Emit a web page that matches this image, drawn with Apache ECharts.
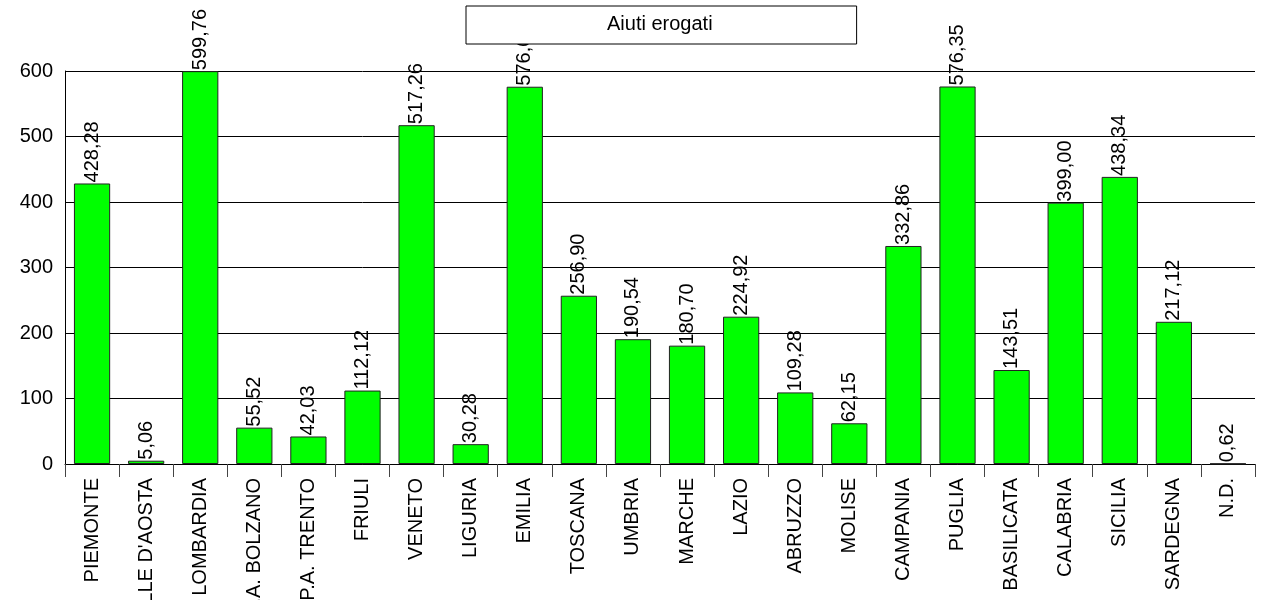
<!DOCTYPE html>
<html>
<head>
<meta charset="utf-8">
<script src="https://cdn.jsdelivr.net/npm/echarts@6/dist/echarts.min.js"></script>
<style>
  html, body { margin: 0; padding: 0; background: #fff; }
  #chart { width: 1271px; height: 600px; }
</style>
</head>
<body>
<div id="chart"></div>
<script>
// regioni
var categories = ['PIEMONTE', "VALLE D'AOSTA", 'LOMBARDIA', 'P.A. BOLZANO', 'P.A. TRENTO', 'FRIULI',
  'VENETO', 'LIGURIA', 'EMILIA', 'TOSCANA', 'UMBRIA', 'MARCHE', 'LAZIO', 'ABRUZZO', 'MOLISE',
  'CAMPANIA', 'PUGLIA', 'BASILICATA', 'CALABRIA', 'SICILIA', 'SARDEGNA', 'N.D.'];
var aiutiErogati = [428.28, 5.06, 599.76, 55.52, 42.03, 112.12, 517.26, 30.28, 576.00, 256.90,
  190.54, 180.70, 224.92, 109.28, 62.15, 332.86, 576.35, 143.51, 399.00, 438.34, 217.12, 0.62];
var yTicks = [0, 100, 200, 300, 400, 500, 600];

var font = 'Liberation Sans, Arial, sans-serif';
var myChart = echarts.init(document.getElementById('chart'));

var option = {
  animation: false,
  textStyle: { fontFamily: font },
  legend: {
    data: ['Aiuti erogati'],
    left: 466,
    top: 6,
    icon: 'rect',
    itemWidth: 0,
    itemHeight: 0,
    padding: [8, 144, 10, 135],
    backgroundColor: '#fff',
    borderColor: '#000',
    borderWidth: 1,
    borderRadius: 0,
    z: 10,
    textStyle: { fontSize: 20, color: '#000', fontFamily: font }
  },
  grid: { left: 65, right: 16, top: 71, bottom: 136, containLabel: false, outerBoundsMode: 'none' },
  xAxis: {
    type: 'category',
    data: categories,
    axisLine: { lineStyle: { color: '#000', width: 1 } },
    axisTick: { show: true, length: 13, lineStyle: { color: '#444' } },
    axisLabel: {
      rotate: 90,
      fontSize: 20,
      color: '#000',
      margin: 14,
      interval: 0,
      fontFamily: font
    }
  },
  yAxis: {
    type: 'value',
    min: yTicks[0],
    max: yTicks[yTicks.length - 1],
    interval: 100,
    axisLine: { show: true, lineStyle: { color: '#000' } },
    axisTick: { show: false },
    axisLabel: { fontSize: 20, color: '#000', margin: 12, fontFamily: font },
    splitLine: { lineStyle: { color: '#000', width: 1 } }
  },
  series: [{
    name: 'Aiuti erogati',
    type: 'bar',
    data: aiutiErogati,
    barWidth: '67%',
    itemStyle: { color: '#00ff00', borderColor: '#222', borderWidth: 1 },
    label: {
      show: true,
      position: 'top',
      rotate: 90,
      align: 'left',
      verticalAlign: 'middle',
      distance: 1,
      fontSize: 20,
      color: '#000',
      fontFamily: font,
      formatter: function (p) { return p.value.toFixed(2).replace('.', ','); }
    }
  }]
};

myChart.setOption(option);
</script>
</body>
</html>
